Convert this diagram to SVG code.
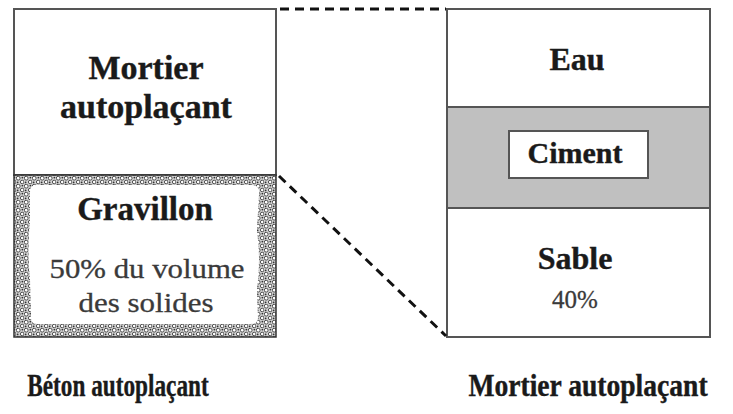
<svg xmlns="http://www.w3.org/2000/svg" width="733" height="414" viewBox="0 0 733 414">
  <defs>
    <!-- stippled gravel texture -->
    <pattern id="gravel" width="8" height="8" patternUnits="userSpaceOnUse">
      <rect width="8" height="8" fill="#d0d0d0"/>
      <circle cx="2.2" cy="2.2" r="1.9" fill="#fff" stroke="#2a2a2a" stroke-width="0.8"/>
      <circle cx="6.2" cy="6" r="1.8" fill="#fff" stroke="#2a2a2a" stroke-width="0.8"/>
      <circle cx="6.4" cy="1.6" r="0.9" fill="#333"/>
      <circle cx="1.6" cy="6.4" r="0.9" fill="#333"/>
    </pattern>
  </defs>
  <style>
    .box { fill: #fff; stroke: #555; stroke-width: 2; }
    .lbl { font-family: "Liberation Serif", "DejaVu Serif", serif; font-weight: bold; fill: #1a1a1a; stroke: #1a1a1a; stroke-width: 0.4; text-anchor: middle; }
    .txt { font-family: "Liberation Serif", "DejaVu Serif", serif; fill: #3a3a3a; stroke: #3a3a3a; stroke-width: 0.3; text-anchor: middle; }
    .dash { fill: none; stroke: #111; stroke-width: 3; stroke-dasharray: 9 6; }
  </style>

  <rect width="733" height="414" fill="#fff"/>

  <!-- left column: concrete -->
  <g id="mortier-beton">
    <rect class="box" x="14" y="9" width="262" height="166"/>
    <text class="lbl" x="146" y="79" font-size="34">Mortier</text>
    <text class="lbl" x="146" y="118" font-size="34">autoplaçant</text>
  </g>
  <g id="gravillon">
    <rect x="14" y="175" width="262" height="162" fill="url(#gravel)" stroke="#333" stroke-width="1.5"/>
    <path d="M36 185 H252 Q260 185 259 194 L257 230 Q261 260 257 290 L258 318 Q258 324 250 324 H38 Q30 324 31 316 L30 280 Q27 250 30 220 L30 192 Q30 185 36 185 Z" fill="#fff"/>
    <text class="lbl" x="145" y="220" font-size="33">Gravillon</text>
    <text class="txt" x="147" y="278" font-size="28" textLength="195" lengthAdjust="spacingAndGlyphs">50% du volume</text>
    <text class="txt" x="146" y="312" font-size="28" textLength="135" lengthAdjust="spacingAndGlyphs">des solides</text>
  </g>

  <!-- right column: mortar -->
  <g id="eau">
    <rect class="box" x="447" y="9" width="263" height="98"/>
    <text class="lbl" x="577" y="70" font-size="32">Eau</text>
  </g>
  <g id="ciment">
    <rect x="447" y="107" width="263" height="101" fill="#c0c0c0" stroke="#555" stroke-width="2"/>
    <rect x="509" y="131" width="139" height="47" fill="#fff" stroke="#555" stroke-width="2"/>
    <text class="lbl" x="575" y="163" font-size="30">Ciment</text>
  </g>
  <g id="sable">
    <rect class="box" x="447" y="208" width="263" height="129"/>
    <text class="lbl" x="575" y="269" font-size="32">Sable</text>
    <text class="txt" x="575" y="308" font-size="25">40%</text>
  </g>

  <!-- zoom guide lines -->
  <g id="connectors">
    <line class="dash" x1="280" y1="9" x2="446" y2="9"/>
    <line class="dash" x1="279" y1="176" x2="446" y2="336"/>
  </g>

  <!-- captions (horizontally condensed) -->
  <g id="captions">
    <text class="lbl" transform="translate(118,396) scale(0.75,1)" font-size="31">Béton autoplaçant</text>
    <text class="lbl" transform="translate(588,396) scale(0.89,1)" font-size="31">Mortier autoplaçant</text>
  </g>
</svg>
